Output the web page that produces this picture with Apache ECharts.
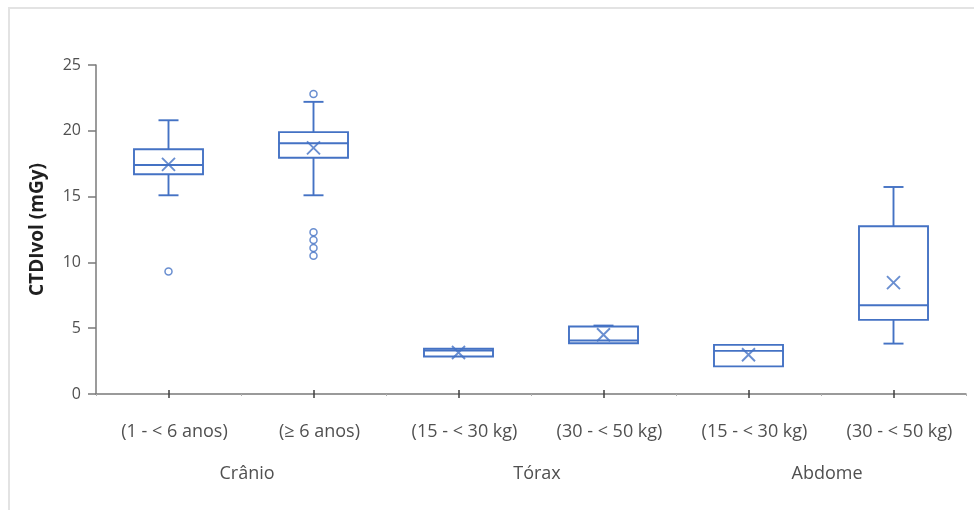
<!DOCTYPE html>
<html>
<head>
<meta charset="utf-8">
<script src="https://cdn.jsdelivr.net/npm/echarts@6/dist/echarts.min.js"></script>
<style>
  html, body { margin: 0; padding: 0; background: #ffffff; }
  #chart { width: 974px; height: 510px; }
</style>
</head>
<body>
<div id="chart"></div>
<script>
// ---- data ----
const categories = ['(1 - < 6 anos)', '(≥ 6 anos)', '(15 - < 30 kg)', '(30 - < 50 kg)', '(15 - < 30 kg)', '(30 - < 50 kg)'];
const groups = ['Crânio', 'Tórax', 'Abdome'];
const whiskerLow  = [15.1, 15.1, 2.85, 3.86, 2.1, 3.83];
const quart1      = [16.7, 17.95, 2.85, 3.86, 2.1, 5.63];
const medians     = [17.4, 19.05, 3.3, 4.06, 3.28, 6.74];
const quart3      = [18.6, 19.9, 3.44, 5.13, 3.73, 12.75];
const whiskerHigh = [20.8, 22.2, 3.44, 5.2, 3.73, 15.73];
const means       = [17.45, 18.7, 3.15, 4.5, 2.98, 8.46];
const outlierCategory = [0, 1, 1, 1, 1, 1];
const outlierValue    = [9.3, 22.8, 12.3, 11.7, 11.1, 10.5];
const yTickLabels = [0, 5, 10, 15, 20, 25];

const BLUE = '#4472C4';
const AXIS = '#7a7a7a';
const TEXT = '#505050';
const FONT = 'Open Sans';

const boxData = categories.map((c, i) => [i, whiskerLow[i], quart1[i], medians[i], quart3[i], whiskerHigh[i]]);
const meanData = means.map((m, i) => [i, m]);
const outlierData = outlierValue.map((v, i) => [outlierCategory[i], v]);

const chart = echarts.init(document.getElementById('chart'), null, { renderer: 'canvas' });

const option = {
  animation: false,
  backgroundColor: '#ffffff',
  graphic: [{
    type: 'rect',
    shape: { x: 9, y: 8, width: 990, height: 540 },
    style: { fill: 'none', stroke: '#e3e3e3', lineWidth: 2 },
    silent: true,
    z: -10
  }],
  grid: { left: 96, right: 8, top: 65, bottom: 116 },
  xAxis: [
    {
      type: 'category',
      data: categories,
      boundaryGap: true,
      axisLine: { show: true, lineStyle: { color: AXIS, width: 1.5 } },
      axisTick: { show: true, alignWithLabel: true, length: 4, lineStyle: { color: '#404040', width: 1.5 } },
      axisLabel: { color: TEXT, fontFamily: FONT, fontSize: 18, margin: 29, padding: [0, 0, 0, 12], interval: 0 },
      splitLine: { show: false }
    },
    {
      type: 'category',
      data: groups,
      position: 'bottom',
      boundaryGap: true,
      axisLine: { show: false },
      axisTick: { show: false },
      axisLabel: { color: TEXT, fontFamily: FONT, fontSize: 18, margin: 71, padding: [0, 0, 0, 12], interval: 0 },
      splitLine: { show: false }
    },
    {
      type: 'category',
      data: categories,
      position: 'bottom',
      boundaryGap: true,
      axisLine: { show: false },
      axisTick: { show: true, inside: true, alignWithLabel: true, length: 4, lineStyle: { color: '#404040', width: 1.5 } },
      axisLabel: { show: false },
      splitLine: { show: false }
    },
    {
      type: 'category',
      data: categories,
      position: 'bottom',
      boundaryGap: true,
      axisLine: { show: false },
      axisTick: { show: true, length: 2, lineStyle: { color: '#b0b0b0', width: 1 } },
      axisLabel: { show: false },
      splitLine: { show: false }
    }
  ],
  yAxis: {
    type: 'value',
    min: yTickLabels[0],
    max: yTickLabels[yTickLabels.length - 1],
    interval: yTickLabels[1] - yTickLabels[0],
    name: 'CTDIvol (mGy)',
    nameLocation: 'middle',
    nameGap: 49,
    nameTextStyle: { color: '#1f1f1f', fontFamily: FONT, fontSize: 19, fontWeight: 'bold' },
    axisLine: { show: true, lineStyle: { color: AXIS, width: 1.5 } },
    axisTick: { show: true, length: 8, lineStyle: { color: AXIS, width: 1.5 } },
    axisLabel: { color: TEXT, fontFamily: FONT, fontSize: 16, margin: 15 },
    splitLine: { show: false }
  },
  series: [
    {
      type: 'custom',
      xAxisIndex: 0,
      data: boxData,
      z: 2,
      renderItem: function (params, api) {
        const idx = api.value(0);
        const band = api.size([1, 0])[0];
        const half = band * 0.476 / 2;
        const capHalf = band * 0.138 / 2;
        const cx = api.coord([idx, 0])[0];
        const yLow = api.coord([idx, api.value(1)])[1];
        const yQ1 = api.coord([idx, api.value(2)])[1];
        const yMed = api.coord([idx, api.value(3)])[1];
        const yQ3 = api.coord([idx, api.value(4)])[1];
        const yHigh = api.coord([idx, api.value(5)])[1];
        const ls = { stroke: BLUE, lineWidth: 1.9, fill: null };
        const children = [];
        if (Math.abs(yHigh - yQ3) > 0.5) {
          children.push({ type: 'line', shape: { x1: cx, y1: yQ3, x2: cx, y2: yHigh }, style: ls });
          children.push({ type: 'line', shape: { x1: cx - capHalf, y1: yHigh, x2: cx + capHalf, y2: yHigh }, style: ls });
        }
        if (Math.abs(yLow - yQ1) > 0.5) {
          children.push({ type: 'line', shape: { x1: cx, y1: yQ1, x2: cx, y2: yLow }, style: ls });
          children.push({ type: 'line', shape: { x1: cx - capHalf, y1: yLow, x2: cx + capHalf, y2: yLow }, style: ls });
        }
        children.push({ type: 'rect', shape: { x: cx - half, y: yQ3, width: half * 2, height: yQ1 - yQ3 }, style: { stroke: BLUE, lineWidth: 1.9, fill: '#ffffff' } });
        children.push({ type: 'line', shape: { x1: cx - half, y1: yMed, x2: cx + half, y2: yMed }, style: ls });
        return { type: 'group', children: children };
      }
    },
    {
      type: 'scatter',
      xAxisIndex: 0,
      data: meanData,
      z: 3,
      symbol: 'path://M0,0L10,10M10,0L0,10',
      symbolSize: 13,
      itemStyle: { color: 'none', borderColor: BLUE, borderWidth: 1.9 }
    },
    {
      type: 'scatter',
      xAxisIndex: 0,
      data: outlierData,
      z: 3,
      symbol: 'circle',
      symbolSize: 7,
      itemStyle: { color: '#ffffff', borderColor: BLUE, borderWidth: 1.5 }
    }
  ]
};

chart.setOption(option);
</script>
</body>
</html>
